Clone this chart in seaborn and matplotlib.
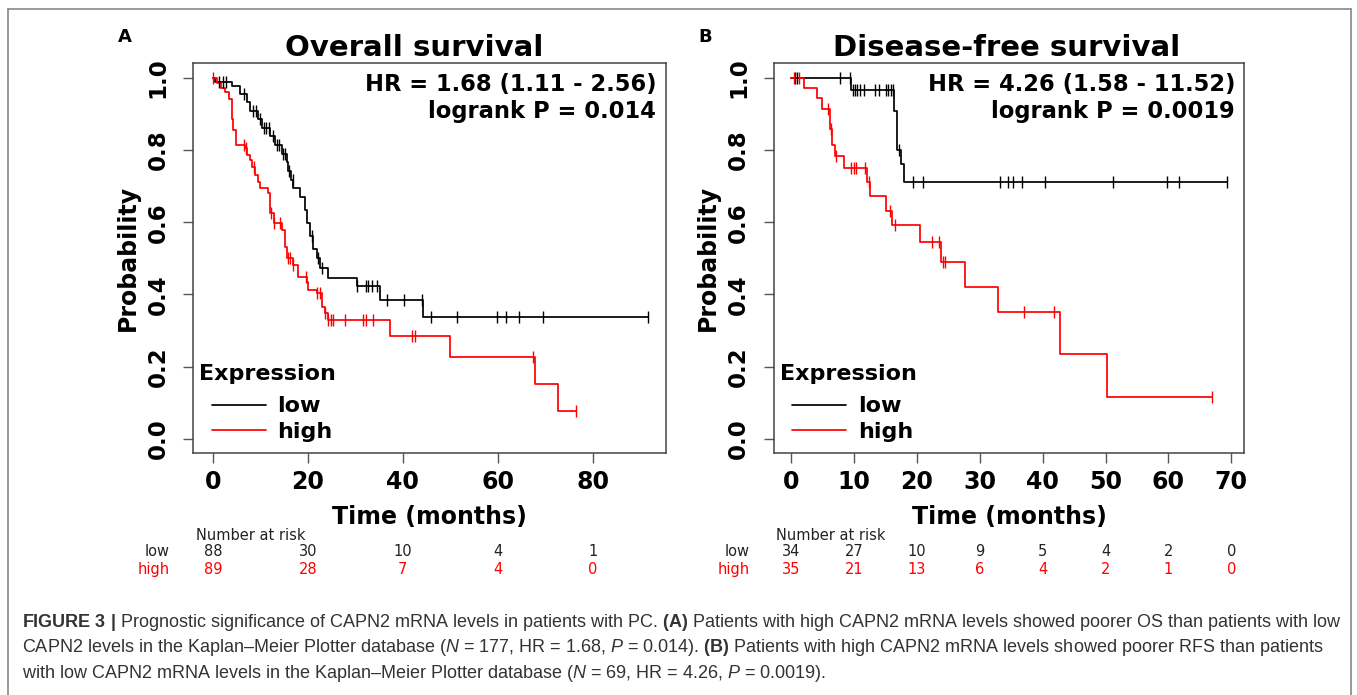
import numpy as np
import pandas as pd
import matplotlib
matplotlib.use('Agg')
import matplotlib.pyplot as plt
import matplotlib.transforms as mtransforms
from matplotlib.lines import Line2D
import seaborn as sns

# Panel A: overall survival (step points of the KM curves)
os_low_time = [0, 0.5, 4.0, 5.7, 7.2, 7.9, 9.6, 10.3, 12.1, 13.1, 14.5, 15.6, 15.9, 16.4,
               17.0, 18.4, 19.4, 19.9, 20.4, 21.2, 21.9, 22.6, 24.3, 30.3, 35.2, 44.2, 91.6]
os_low_surv = [1.0, 0.989, 0.977, 0.955, 0.932, 0.909, 0.886, 0.862, 0.838, 0.814, 0.790, 0.766,
               0.742, 0.718, 0.694, 0.670, 0.634, 0.598, 0.562, 0.526, 0.500, 0.472, 0.445,
               0.422, 0.385, 0.338, 0.338]
os_low_cens = [1.3, 2.2, 2.8, 6.5, 8.5, 9.2, 10.0, 10.8, 11.3, 11.8, 12.6, 13.5, 14.0, 14.8,
               15.2, 16.0, 16.8, 20.8, 22.2, 23.0, 30.3, 32.2, 32.8, 33.5, 34.5, 36.6, 40.3,
               44.0, 46.0, 51.4, 59.8, 61.7, 64.6, 69.5, 91.6]

os_high_time = [0, 0.8, 1.7, 2.6, 3.5, 4.0, 4.3, 4.9, 6.8, 7.2, 7.9, 8.2, 8.9, 9.6, 10.0, 11.7,
                12.1, 12.8, 14.5, 15.2, 15.6, 17.0, 18.0, 19.8, 20.1, 21.9, 23.0, 23.6, 24.3,
                37.3, 50.0, 67.9, 72.8, 76.5]
os_high_surv = [1.0, 0.985, 0.971, 0.960, 0.940, 0.885, 0.856, 0.814, 0.805, 0.786, 0.773, 0.754,
                0.731, 0.712, 0.694, 0.680, 0.625, 0.597, 0.579, 0.532, 0.500, 0.482, 0.449,
                0.435, 0.412, 0.403, 0.366, 0.348, 0.329, 0.285, 0.228, 0.152, 0.076, 0.076]
os_high_cens = [0.0, 6.5, 7.0, 8.7, 12.3, 12.8, 14.1, 15.9, 16.3, 17.0, 19.6, 21.9, 22.6, 23.6,
                24.3, 25.0, 25.4, 27.9, 31.7, 32.2, 33.8, 41.9, 42.6, 67.4, 76.5]

# Panel B: disease-free survival
dfs_low_time = [0, 9.5, 16.3, 16.9, 17.4, 18.0, 69.3]
dfs_low_surv = [1.0, 0.966, 0.909, 0.800, 0.760, 0.712, 0.712]
dfs_low_cens = [0.6, 1.0, 7.8, 9.3, 9.8, 10.2, 10.5, 10.9, 11.5, 13.3, 13.9, 15.0, 15.4, 15.8,
                16.2, 17.2, 19.3, 21.0, 33.2, 34.5, 35.3, 36.7, 40.4, 51.2, 59.7, 61.7, 69.3]

dfs_high_time = [0, 2.1, 4.1, 4.9, 6.1, 6.5, 7.0, 8.4, 12.1, 12.6, 15.1, 16.0, 20.5, 23.8,
                 27.6, 32.9, 42.8, 50.3, 67.0]
dfs_high_surv = [1.0, 0.971, 0.943, 0.914, 0.857, 0.814, 0.782, 0.750, 0.712, 0.673, 0.632,
                 0.591, 0.544, 0.491, 0.420, 0.350, 0.234, 0.117, 0.117]
dfs_high_cens = [0.4, 1.2, 5.9, 6.3, 7.2, 9.5, 10.0, 10.3, 11.8, 12.4, 15.7, 16.5, 22.4,
                 23.5, 24.2, 24.4, 37.1, 41.8, 67.0]

# number at risk
os_risk_times = [0, 20, 40, 60, 80]
os_risk_low = [88, 30, 10, 4, 1]
os_risk_high = [89, 28, 7, 4, 0]
dfs_risk_times = [0, 10, 20, 30, 40, 50, 60, 70]
dfs_risk_low = [34, 27, 10, 9, 5, 4, 2, 0]
dfs_risk_high = [35, 21, 13, 6, 4, 2, 1, 0]

pal = {'low': 'black', 'high': '#ff0000'}

sns.set_style('white')
plt.rcParams['font.family'] = ['DejaVu Sans']
plt.rcParams['text.color'] = 'black'
plt.rcParams['axes.labelcolor'] = 'black'
plt.rcParams['xtick.color'] = 'black'
plt.rcParams['ytick.color'] = 'black'
plt.rcParams['mathtext.fontset'] = 'custom'
plt.rcParams['mathtext.rm'] = 'Liberation Sans'
plt.rcParams['mathtext.it'] = 'Liberation Sans:italic'
plt.rcParams['mathtext.bf'] = 'Liberation Sans:bold'


def km_frames(low_t, low_s, low_c, high_t, high_s, high_c):
    curves = pd.concat([
        pd.DataFrame({'time': low_t, 'surv': low_s, 'Expression': 'low'}),
        pd.DataFrame({'time': high_t, 'surv': high_s, 'Expression': 'high'}),
    ], ignore_index=True)
    # censor marks sit on the step curve
    lc = np.searchsorted(low_t, low_c, side='right') - 1
    hc = np.searchsorted(high_t, high_c, side='right') - 1
    cens = pd.concat([
        pd.DataFrame({'time': low_c, 'surv': np.array(low_s)[lc], 'Expression': 'low'}),
        pd.DataFrame({'time': high_c, 'surv': np.array(high_s)[hc], 'Expression': 'high'}),
    ], ignore_index=True)
    return curves, cens


def km_panel(ax, curves, cens, title, title_x, hr, pval, xlim, xticks,
             risk_t, risk_low, risk_high, letter):
    sns.lineplot(data=curves, x='time', y='surv', hue='Expression', palette=pal,
                 hue_order=['low', 'high'], estimator=None, drawstyle='steps-post',
                 linewidth=1.25, ax=ax)
    sns.scatterplot(data=cens, x='time', y='surv', hue='Expression', palette=pal,
                    hue_order=['low', 'high'], marker='|', s=75, linewidth=1.0,
                    legend=False, ax=ax, zorder=3)
    ax.set_xlim(*xlim)
    ax.set_ylim(-0.04, 1.04)
    ax.set_xticks(xticks)
    ax.set_yticks([0, 0.2, 0.4, 0.6, 0.8, 1.0])
    ax.set_yticklabels(['0.0', '0.2', '0.4', '0.6', '0.8', '1.0'], rotation=90, va='center')
    ax.tick_params(axis='both', direction='out', length=7, width=1, color='#555555',
                   bottom=True, left=True)
    ax.tick_params(axis='x', pad=5, labelsize=17)
    ax.tick_params(axis='y', pad=10, labelsize=16.5)
    for lab in ax.get_xticklabels() + ax.get_yticklabels():
        lab.set_fontweight('bold')
    for sp in ax.spines.values():
        sp.set_color('#444444')
        sp.set_linewidth(1.1)
    ax.set_xlabel('Time (months)', fontsize=17, fontweight='bold', labelpad=8)
    ax.set_ylabel('Probability', fontsize=17, fontweight='bold', labelpad=5)
    ax.set_title(title, x=title_x, fontsize=21, fontweight='bold', pad=5)
    ax.text(0.98, 0.975, hr, transform=ax.transAxes, ha='right', va='top',
            fontsize=16.3, fontweight='bold')
    ax.text(0.98, 0.905, pval, transform=ax.transAxes, ha='right', va='top',
            fontsize=16.3, fontweight='bold')
    ax.text(-0.145, 1.067, letter, transform=ax.transAxes, ha='center', va='center',
            fontsize=13, fontweight='bold')

    # legend: title drawn as text, entries as a frameless legend
    ax.text(0.013, 0.204, 'Expression', transform=ax.transAxes, ha='left', va='center',
            fontsize=16, fontweight='bold')
    handles, labels = ax.get_legend_handles_labels()
    ax.legend(handles, labels, loc='upper left', bbox_to_anchor=(0.04, 0.146),
              frameon=False, handlelength=2.4, handletextpad=0.54, labelspacing=0.24,
              borderaxespad=0, borderpad=0, prop={'weight': 'bold', 'size': 16})

    trans = mtransforms.blended_transform_factory(ax.transData, ax.transAxes)
    ax.text(0.005, -0.21, 'Number at risk', transform=ax.transAxes, ha='left', va='center',
            fontsize=10.5, color='#222222')
    ax.text(-0.05, -0.253, 'low', transform=ax.transAxes, ha='right', va='center',
            fontsize=10.5, color='#222222')
    ax.text(-0.05, -0.298, 'high', transform=ax.transAxes, ha='right', va='center',
            fontsize=10.5, color='#ff0000')
    for t, nl, nh in zip(risk_t, risk_low, risk_high):
        ax.text(t, -0.253, str(nl), transform=trans, ha='center', va='center',
                fontsize=10.5, color='#222222')
        ax.text(t, -0.298, str(nh), transform=trans, ha='center', va='center',
                fontsize=10.5, color='#ff0000')


fig = plt.figure(figsize=(13.57, 6.95), dpi=100)
axA = fig.add_axes([0.14245, 0.34777, 0.34812, 0.56115])
axB = fig.add_axes([0.57008, 0.34777, 0.34701, 0.56115])

curvesA, censA = km_frames(os_low_time, os_low_surv, os_low_cens,
                           os_high_time, os_high_surv, os_high_cens)
curvesB, censB = km_frames(dfs_low_time, dfs_low_surv, dfs_low_cens,
                           dfs_high_time, dfs_high_surv, dfs_high_cens)

km_panel(axA, curvesA, censA, 'Overall survival', 0.467, 'HR = 1.68 (1.11 - 2.56)',
         'logrank P = 0.014', (-4.1, 95.4), [0, 20, 40, 60, 80],
         os_risk_times, os_risk_low, os_risk_high, 'A')
km_panel(axB, curvesB, censB, 'Disease-free survival', 0.4955, 'HR = 4.26 (1.58 - 11.52)',
         'logrank P = 0.0019', (-2.8, 72.1), [0, 10, 20, 30, 40, 50, 60, 70],
         dfs_risk_times, dfs_risk_low, dfs_risk_high, 'B')

# outer frame of the figure panel
W, H = 1357, 695
for xs, ys in [((8, 8), (0, H - 9)), ((8, 1351), (H - 9, H - 9)), ((1351, 1351), (0, H - 9))]:
    fig.add_artist(Line2D([x / W for x in xs], [y / H for y in ys], color='#888888', lw=1.2))

caption = [
    r'$\mathbf{FIGURE\ 3\ |}$ Prognostic significance of CAPN2 mRNA levels in patients with PC. '
    r'$\mathbf{(A)}$ Patients with high CAPN2 mRNA levels showed poorer OS than patients with low',
    r'CAPN2 levels in the Kaplan–Meier Plotter database ($\mathit{N}$ = 177, HR = 1.68, '
    r'$\mathit{P}$ = 0.014). $\mathbf{(B)}$ Patients with high CAPN2 mRNA levels showed poorer RFS than patients',
    r'with low CAPN2 mRNA levels in the Kaplan–Meier Plotter database ($\mathit{N}$ = 69, '
    r'HR = 4.26, $\mathit{P}$ = 0.0019).',
]
for i, line in enumerate(caption):
    fig.text(22 / W, 1 - (627 + 25.5 * i) / H, line, ha='left', va='baseline',
             fontsize=13.0, family='Liberation Sans', color='#333333')

fig.savefig('out.png', dpi=100)
